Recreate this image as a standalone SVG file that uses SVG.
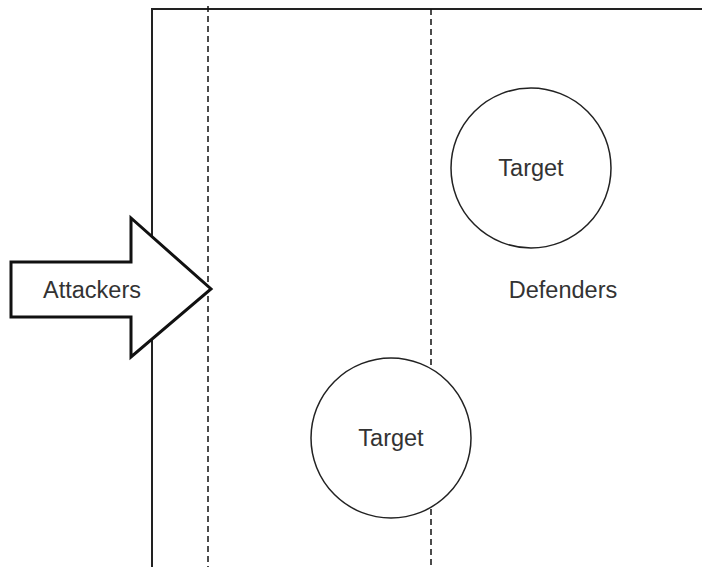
<svg xmlns="http://www.w3.org/2000/svg" width="703" height="567" viewBox="0 0 703 567">
<style>
.frame{fill:none;stroke:#222;stroke-width:2}
.dash{fill:none;stroke:#111;stroke-width:1.5;stroke-dasharray:6,4}
.node{fill:#fff;stroke:#222;stroke-width:1.5}
.lbl{font-family:"Liberation Sans",Arial,sans-serif;font-size:23.5px;fill:#333;text-anchor:middle}
</style>
<rect width="703" height="567" fill="#fff"/>
<g id="frame">
<path class="frame" d="M152,567 V9 H702"/>
</g>
<g id="lanes">
<line class="dash" x1="208" y1="6" x2="208" y2="567"/>
<line class="dash" x1="431" y1="9" x2="431" y2="567"/>
</g>
<g id="attackers">
<polygon points="11,262 131,262 131,218 211,289 131,357 131,317 11,317" fill="#fff" stroke="#111" stroke-width="3" stroke-linejoin="miter"/>
<text class="lbl" x="92" y="298">Attackers</text>
</g>
<g id="target1">
<circle class="node" cx="531" cy="168" r="80"/>
<text class="lbl" x="531" y="176">Target</text>
</g>
<g id="target2">
<circle class="node" cx="391" cy="438" r="80"/>
<text class="lbl" x="391" y="446">Target</text>
</g>
<g id="defenders">
<text class="lbl" x="563" y="298">Defenders</text>
</g>
<g id="connectors"></g>
</svg>
